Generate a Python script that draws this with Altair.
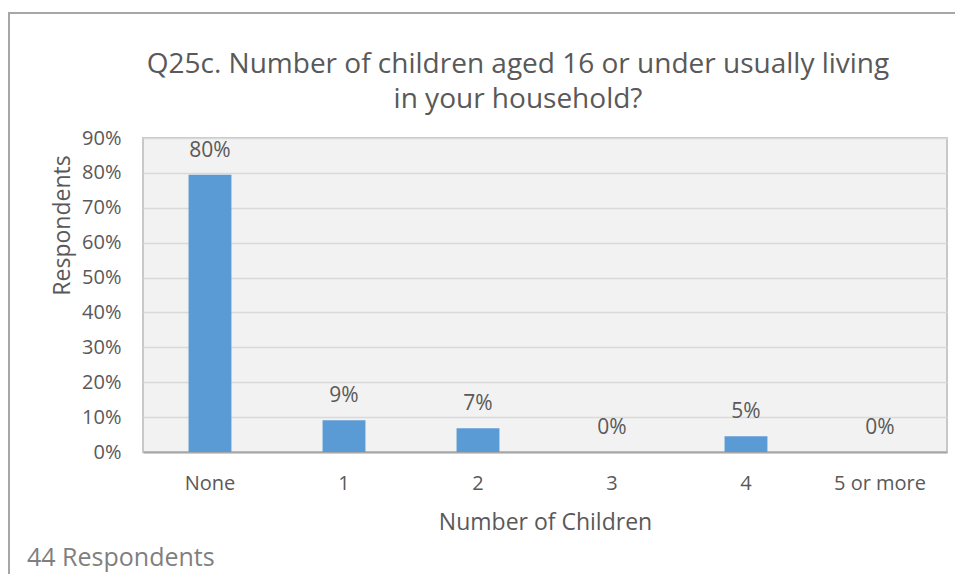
import altair as alt
import pandas as pd

categories = ["None", "1", "2", "3", "4", "5 or more"]
shares = [0.795, 0.091, 0.068, 0.0, 0.045, 0.0]
labels = ["80%", "9%", "7%", "0%", "5%", "0%"]
y_ticks = [0, 0.1, 0.2, 0.3, 0.4, 0.5, 0.6, 0.7, 0.8, 0.9]
title_lines = ["Q25c. Number of children aged 16 or under usually living", "in your household?"]
footer_text = ["44 Respondents"]

FONT = "Open Sans"
TXT = "#595959"

df = pd.DataFrame({"cat": categories, "share": shares, "label": labels})

x_enc = alt.X(
    "cat:N",
    sort=categories,
    scale=alt.Scale(paddingInner=0.68, paddingOuter=0.34),
    axis=alt.Axis(
        title="Number of Children",
        labelAngle=0,
        labelFont=FONT,
        labelFontSize=20,
        labelColor=TXT,
        labelPadding=21,
        ticks=False,
        domainColor="#a6a6a6",
        domainWidth=2,
        titleFont=FONT,
        titleFontSize=23,
        titleFontWeight="normal",
        titleColor=TXT,
        titlePadding=18,
    ),
)

y_enc = alt.Y(
    "share:Q",
    scale=alt.Scale(domain=[0, 0.9], nice=False),
    axis=alt.Axis(
        title="Respondents",
        values=y_ticks,
        format=".0%",
        labelOverlap=False,
        labelFont=FONT,
        labelFontSize=20,
        labelColor=TXT,
        labelPadding=22,
        ticks=False,
        domain=False,
        gridColor="#d9d9d9",
        gridWidth=1.5,
        titleFont=FONT,
        titleFontSize=23,
        titleFontWeight="normal",
        titleColor=TXT,
        titleX=-81,
        titleY=87,
        titleAngle=270,
        titleAlign="center",
        titleBaseline="middle",
    ),
)

base = alt.Chart(df)

bars = base.mark_bar(color="#5b9bd5").encode(x=x_enc, y=y_enc)

texts = base.mark_text(
    font=FONT, fontSize=21, color=TXT, baseline="middle", dy=-24
).encode(x=x_enc, y=y_enc, text="label:N")

frame_df = pd.DataFrame({"a": [0]})
frame = alt.Chart(frame_df).mark_rect(
    fill=None, stroke="#a6a6a6", strokeWidth=2
).encode(
    x=alt.value(-134), x2=alt.value(830), y=alt.value(-125), y2=alt.value(460)
)

footer = alt.Chart(pd.DataFrame({"t": footer_text})).mark_text(
    font=FONT, fontSize=25, color="#7f7f7f", align="left", baseline="alphabetic"
).encode(x=alt.value(-116), y=alt.value(428), text="t:N")

chart = (
    alt.layer(frame, bars, texts, footer)
    .properties(
        width=804,
        height=314,
        autosize=alt.AutoSizeParams(type="none"),
        padding={"left": 135, "top": 130, "right": 8, "bottom": 122},
        title=alt.TitleParams(
            text=title_lines,
            font=FONT,
            fontSize=28,
            fontWeight="normal",
            color=TXT,
            anchor="middle",
            frame="group",
            dx=-27,
            offset=0,
            dy=102,
            lineHeight=35,
        ),
        background="white",
    )
    .configure_view(fill="#f2f2f2", stroke="#c8c8c8", strokeWidth=2)
)

chart.save("out.html", embed_options={"renderer": "svg", "actions": False})
